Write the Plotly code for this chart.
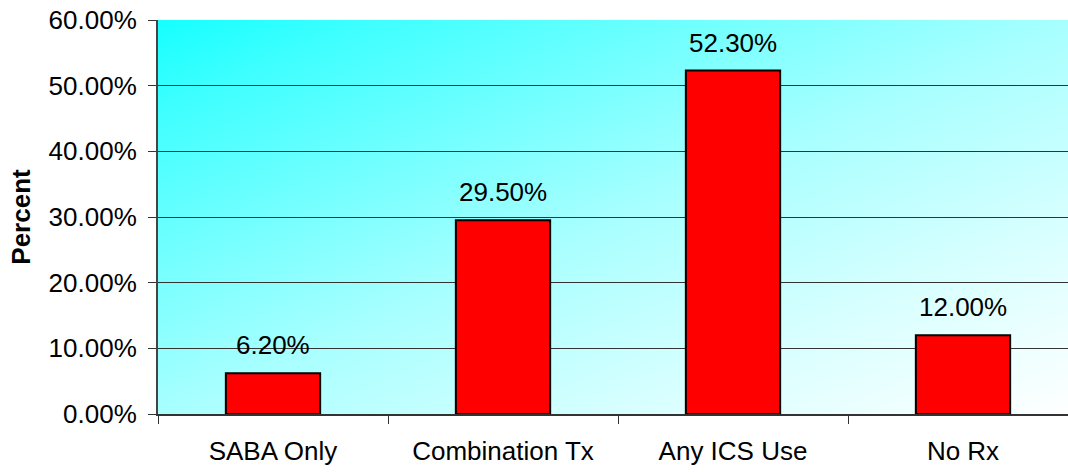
import numpy as np
import plotly.graph_objects as go

categories = ["SABA Only", "Combination Tx", "Any ICS Use", "No Rx"]
values = [6.2, 29.5, 52.3, 12.0]
y_ticks = [0, 10, 20, 30, 40, 50, 60]

FONT = "Liberation Sans, Arial, sans-serif"
FS = 26

# background gradient (cyan top-left -> white bottom-right)
gx = np.linspace(-0.5, 3.5, 81)
gy = np.linspace(0, 60, 61)
u = (gx + 0.5) / 4.0
v = (60 - gy) / 60.0
Z = (u[None, :] + v[:, None]) / 2.0
grad_scale = [[0.0, "#16FFFF"], [0.12, "#40FFFF"], [0.5, "#A8FFFF"],
              [0.75, "#D8FFFF"], [1.0, "#FFFFFF"]]

fig = go.Figure()
fig.add_trace(go.Heatmap(x=gx, y=gy, z=Z, colorscale=grad_scale, zmin=0, zmax=1,
                         zsmooth="best", showscale=False, hoverinfo="skip",
                         xaxis="x", yaxis="y"))
fig.add_trace(go.Bar(x=categories, y=values, width=0.41,
                     marker=dict(color="#FF0000", line=dict(color="#000000", width=2)),
                     xaxis="x2", yaxis="y2", hoverinfo="skip"))

for c, val in zip(categories, values):
    fig.add_annotation(x=c, y=val, xref="x2", yref="y2", text=f"{val:.2f}%",
                       showarrow=False, yanchor="bottom", yshift=11,
                       font=dict(family=FONT, size=FS, color="#000000"))

xr = [-0.5, 3.4565]
fig.update_layout(
    width=1068, height=472,
    margin=dict(l=158, r=0, t=20, b=58),
    paper_bgcolor="#FFFFFF",
    plot_bgcolor="rgba(0,0,0,0)",
    showlegend=False,
    font=dict(family=FONT, size=FS, color="#000000"),
    xaxis=dict(visible=False, range=xr, domain=[0, 1], fixedrange=True),
    yaxis=dict(visible=False, range=[0, 60], domain=[0, 1], fixedrange=True),
    xaxis2=dict(type="category", range=xr, domain=[0, 1], anchor="y2",
                tickson="boundaries", ticks="outside", ticklen=8, tickwidth=1,
                tickcolor="#333333", showline=True, linecolor="#333333", linewidth=2,
                showgrid=False, ticklabelstandoff=13,
                tickfont=dict(family=FONT, size=FS, color="#000000")),
    yaxis2=dict(range=[0, 60], domain=[0, 1], anchor="x2",
                tickvals=y_ticks, ticktext=[f"{t:.2f}%" for t in y_ticks],
                ticks="outside", ticklen=8, tickwidth=1, tickcolor="#333333",
                showline=True, linecolor="#444444", linewidth=2,
                showgrid=True, gridcolor="#333333", gridwidth=1,
                zeroline=False, ticklabelstandoff=6,
                tickfont=dict(family=FONT, size=FS, color="#000000"),
                title=dict(text="<b>Percent</b>", standoff=11,
                           font=dict(family=FONT, size=FS, color="#000000"))),
)

fig.write_html("out.html")
